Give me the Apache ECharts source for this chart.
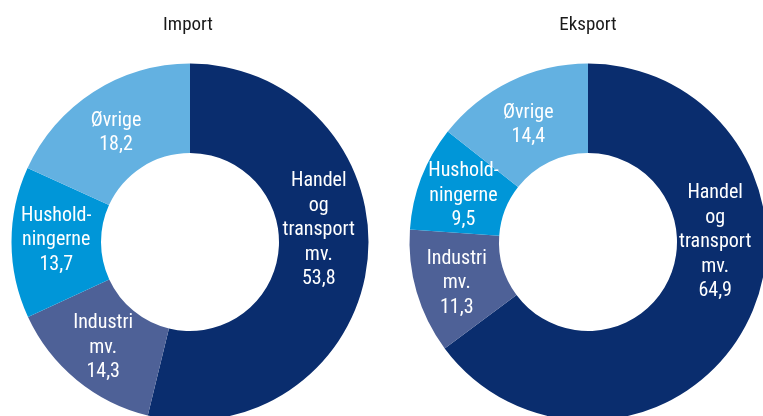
<!DOCTYPE html>
<html>
<head>
<meta charset="utf-8">
<script src="https://cdn.jsdelivr.net/npm/echarts@6/dist/echarts.min.js"></script>
<style>
  html, body { margin: 0; padding: 0; background: #fff; }
  #chart { width: 763px; height: 416px; }
</style>
</head>
<body>
<div id="chart"></div>
<script>
// Sector shares (per cent) of imports and exports
const categories = ['Handel\nog\ntransport\nmv.', 'Industri\nmv.', 'Hushold-\nningerne', 'Øvrige'];
const importValues = [53.8, 14.3, 13.7, 18.2];
const eksportValues = [64.9, 11.3, 9.5, 14.4];
const panelTitles = ['Import', 'Eksport'];

const sectorColors = ['#0a2d6e', '#4e6197', '#0096d8', '#63b1e1'];
const FONT = '"Roboto Condensed", "Liberation Sans", sans-serif';

// nudges for the in-slice labels, per chart and sector
const importOffsets = [[-7, -28], [0, 0], [3, -2], [0, 6]];
const eksportOffsets = [[5, -61], [0, 3], [3, 3], [0, 6]];

function fmt(v) { return v.toFixed(1).replace('.', ','); }

function donut(values, center, offsets) {
  return {
    type: 'pie',
    center: center,
    radius: [89, 178.5],
    startAngle: 90,
    clockwise: true,
    silent: true,
    animation: false,
    avoidLabelOverlap: false,
    labelLine: { show: false },
    itemStyle: { borderWidth: 0 },
    data: values.map((v, i) => ({
      name: categories[i],
      value: v,
      itemStyle: { color: sectorColors[i] },
      label: { offset: offsets[i] }
    })),
    label: {
      show: true,
      position: 'inside',
      color: '#ffffff',
      fontFamily: FONT,
      fontSize: 20,
      lineHeight: 24.5,
      align: 'center',
      formatter: p => p.name + '\n' + fmt(p.value)
    }
  };
}

const chart = echarts.init(document.getElementById('chart'), null, { renderer: 'canvas' });
chart.setOption({
  backgroundColor: '#ffffff',
  title: [
    { text: panelTitles[0], left: 183, top: 11, textAlign: 'center',
      textStyle: { fontFamily: FONT, fontSize: 19, fontWeight: 'normal', color: '#1a1a1a' } },
    { text: panelTitles[1], left: 583, top: 11, textAlign: 'center',
      textStyle: { fontFamily: FONT, fontSize: 19, fontWeight: 'normal', color: '#1a1a1a' } }
  ],
  series: [
    donut(importValues, [190, 242], importOffsets),
    donut(eksportValues, [588, 242], eksportOffsets)
  ]
});
</script>
</body>
</html>
